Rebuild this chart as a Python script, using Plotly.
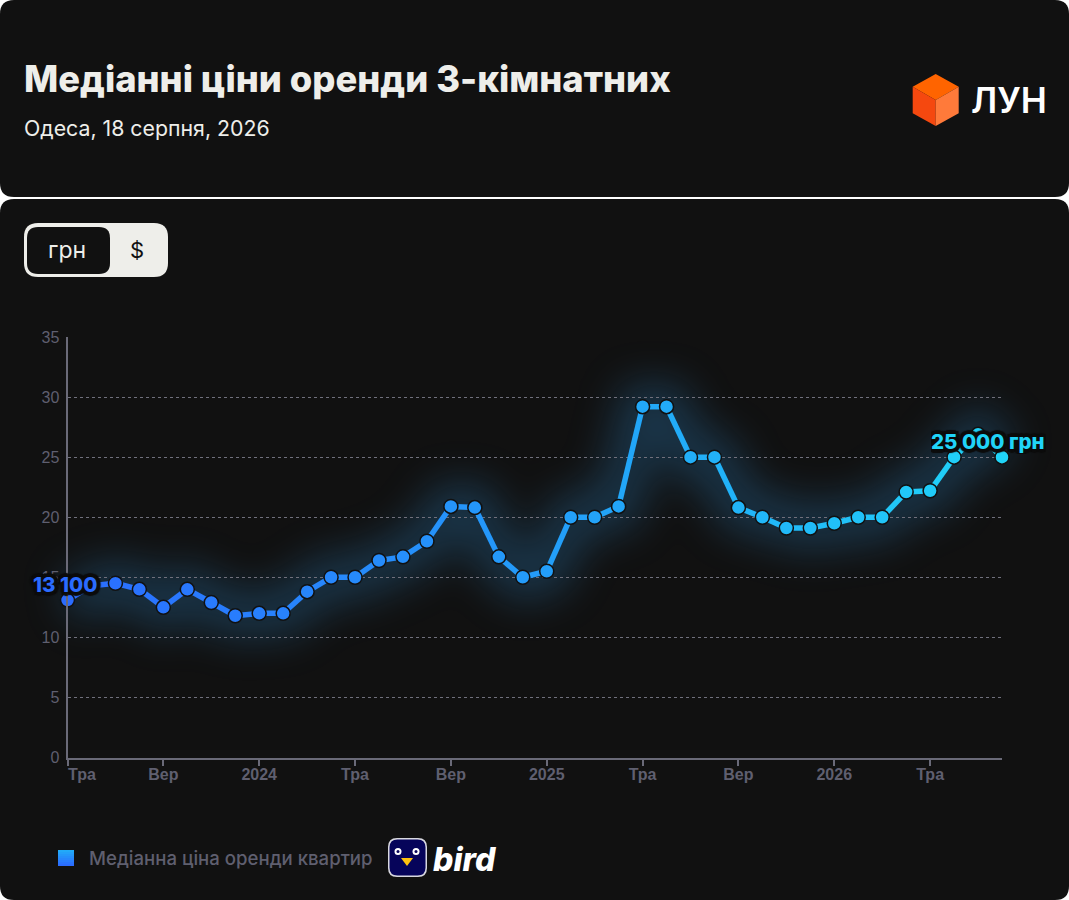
import plotly.graph_objects as go

WIDTH = 1069
HEIGHT = 900

# Data (thousands of UAH, May 2023 - Aug 2026)
months = [
    '2023-05', '2023-06', '2023-07', '2023-08', '2023-09', '2023-10', '2023-11', '2023-12',
    '2024-01', '2024-02', '2024-03', '2024-04', '2024-05', '2024-06', '2024-07', '2024-08',
    '2024-09', '2024-10', '2024-11', '2024-12', '2025-01', '2025-02', '2025-03', '2025-04',
    '2025-05', '2025-06', '2025-07', '2025-08', '2025-09', '2025-10', '2025-11', '2025-12',
    '2026-01', '2026-02', '2026-03', '2026-04', '2026-05', '2026-06', '2026-07', '2026-08',
]
prices = [
    13.1, 14.3, 14.5, 14.0, 12.5, 14.0, 12.9, 11.8,
    12.0, 12.0, 13.8, 15.0, 15.0, 16.4, 16.7, 18.0,
    20.9, 20.8, 16.7, 15.0, 15.5, 20.0, 20.0, 20.9,
    29.2, 29.2, 25.0, 25.0, 20.8, 20.0, 19.1, 19.1,
    19.5, 20.0, 20.0, 22.1, 22.2, 25.0, 26.9, 25.0,
]
x_tick_positions = [0, 4, 8, 12, 16, 20, 24, 28, 32, 36]
x_tick_labels = ['', 'Вер', '2024', 'Тра', 'Вер', '2025', 'Тра', 'Вер', '2026', 'Тра']
first_tick_label = 'Тра'
y_ticks = [0, 5, 10, 15, 20, 25, 30, 35]

title = 'Медіанні ціни оренди 3-кімнатних'
subtitle = 'Одеса, 18 серпня, 2026'
legend_text = 'Медіанна ціна оренди квартир'
first_label = '13 100'
last_label = '25 000 грн'

# Plot area in pixels
PLOT_L, PLOT_R, PLOT_T, PLOT_B = 67.5, 1002, 337, 757.5
CARD = '#111111'
GRAY = '#5f5f6f'
FONT = 'Inter'


def px(x):
    return x / WIDTH


def py(y):
    return 1 - y / HEIGHT


def round_rect(x0, y0, x1, y1, r):
    pts = [
        f'M{px(x0 + r)},{py(y0)}', f'L{px(x1 - r)},{py(y0)}', f'Q{px(x1)},{py(y0)} {px(x1)},{py(y0 + r)}',
        f'L{px(x1)},{py(y1 - r)}', f'Q{px(x1)},{py(y1)} {px(x1 - r)},{py(y1)}',
        f'L{px(x0 + r)},{py(y1)}', f'Q{px(x0)},{py(y1)} {px(x0)},{py(y1 - r)}',
        f'L{px(x0)},{py(y0 + r)}', f'Q{px(x0)},{py(y0)} {px(x0 + r)},{py(y0)}', 'Z',
    ]
    return ' '.join(pts)


def polygon(points):
    return 'M' + ' L'.join(f'{px(x)},{py(y)}' for x, y in points) + ' Z'


def line_color(t):
    # blue -> light blue -> cyan along the line
    stops = [(0.0, (43, 108, 255)), (0.6, (34, 166, 248)), (1.0, (32, 212, 248))]
    for (t0, c0), (t1, c1) in zip(stops, stops[1:]):
        if t <= t1:
            k = (t - t0) / (t1 - t0)
            return 'rgb(%d,%d,%d)' % tuple(round(a + (b - a) * k) for a, b in zip(c0, c1))
    return 'rgb(32,212,248)'


def add_path(fig, path, color):
    fig.add_shape(type='path', path=path, xref='paper', yref='paper',
                  fillcolor=color, line=dict(width=0), layer='below')


def add_text(fig, text, x, y, size, color, weight=400, anchor='left', family=FONT, style='normal', **kwargs):
    fig.add_annotation(text=text, x=px(x), y=py(y), xref='paper', yref='paper',
                       xanchor=anchor, yanchor='middle', showarrow=False,
                       font=dict(size=size, color=color, family=family, weight=weight, style=style, **kwargs))


fig = go.Figure()

# Cards
add_path(fig, round_rect(0, 0, WIDTH, 197, 14), CARD)
add_path(fig, round_rect(0, 199, WIDTH, HEIGHT, 14), CARD)

# Currency switch
add_path(fig, round_rect(24, 223, 168, 277, 14), '#eeeeea')
add_path(fig, round_rect(27, 227, 110, 274, 11), CARD)

# LUN logo
add_path(fig, polygon([(935.7, 74), (958.7, 86.7), (935.7, 100), (912.7, 86.7)]), '#ff6400')
add_path(fig, polygon([(912.7, 86.7), (935.7, 100), (935.7, 126), (912.7, 113.3)]), '#f5480f')
add_path(fig, polygon([(958.7, 86.7), (935.7, 100), (935.7, 126), (958.7, 113.3)]), '#ff7a3a')

# Legend square, vertical gradient
for i in range(8):
    k = i / 7
    color = 'rgb(%d,%d,%d)' % (34 + 9 * k, 170 - 62 * k, 248 + 7 * k)
    add_path(fig, polygon([(58, 850 + 2 * i), (74, 850 + 2 * i), (74, 852 + 2 * i), (58, 852 + 2 * i)]), color)

# Bird logo
add_path(fig, round_rect(388, 838, 427, 877, 9), '#d8d8e0')
add_path(fig, round_rect(389.5, 839.5, 425.5, 875.5, 8), '#06045a')
for cx in (398, 416):
    fig.add_shape(type='circle', xref='paper', yref='paper', x0=px(cx - 3.5), x1=px(cx + 3.5),
                  y0=py(855), y1=py(848), fillcolor='white', line=dict(width=0), layer='below')
    fig.add_shape(type='circle', xref='paper', yref='paper', x0=px(cx - 1.5), x1=px(cx + 1.5),
                  y0=py(853), y1=py(850), fillcolor='#06045a', line=dict(width=0), layer='below')
add_path(fig, polygon([(401, 858), (413, 858), (407, 866)]), '#ffc20e')

# Glow, on the full-page axes so that it is not cut at the plot edges (blurred in post_script)
fig.add_trace(go.Scatter(
    x=list(range(len(prices))), y=prices, xaxis='x', yaxis='y', mode='lines',
    line=dict(color='rgba(50,160,240,0.25)', width=46),
    hoverinfo='skip', showlegend=False,
))

# Line segments with a gradient
n = len(prices)
for i in range(n - 1):
    fig.add_trace(go.Scatter(
        x=[i, i + 1], y=prices[i:i + 2], xaxis='x2', yaxis='y2', mode='lines',
        line=dict(color=line_color((i + 0.5) / (n - 1)), width=5.5),
        hoverinfo='skip', showlegend=False,
    ))

fig.add_trace(go.Scatter(
    x=list(range(n)), y=prices, xaxis='x2', yaxis='y2', mode='markers', cliponaxis=False,
    marker=dict(size=14, color=[line_color(i / (n - 1)) for i in range(n)], line=dict(color=CARD, width=1.5)),
    customdata=months, hovertemplate='%{customdata}: %{y}<extra></extra>', showlegend=False,
))

# Texts
add_text(fig, title, 22, 79, 36.3, '#eeeeea', weight=800)
add_text(fig, subtitle, 22, 128, 21.3, '#eeeeea')
add_text(fig, 'грн', 67, 250, 23, '#eeeeea', anchor='center')
add_text(fig, '$', 137, 250, 22, '#111111', anchor='center')
add_text(fig, 'ЛУН', 969, 100, 35, '#ffffff', weight=600)
add_text(fig, legend_text, 87, 858, 18.6, GRAY, weight=500)
add_text(fig, 'bird', 431, 859, 32, '#ffffff', weight=800, style='italic')
add_text(fig, first_tick_label, 66, 774, 16, GRAY, weight=700, family='Liberation Sans')

# Dark ring round the value labels, hides the marks under them
offsets = [(-4, 0), (4, 0), (0, -4), (0, 4), (-3, -3), (3, -3), (-3, 3), (3, 3), (-2, 0), (2, 0), (0, -2), (0, 2)]
halo = ', '.join(f'{dx}px {dy}px 1px #0c0c0c' for dx, dy in offsets)
add_text(fig, first_label, 65, 584, 20.5, line_color(0), weight=800, anchor='center', shadow=halo)
fig.add_annotation(
    text=last_label, x=px(929), y=py(441), xref='paper', yref='paper', xanchor='left', yanchor='middle',
    showarrow=False, width=115, align='left',
    font=dict(size=20.5, color=line_color(1), family=FONT, weight=800, shadow=halo),
)

# Axes: x/y cover the whole page (only for the glow), x2/y2 are the visible ones
unit_x = (PLOT_R - PLOT_L) / (n - 1)
unit_y = (PLOT_B - PLOT_T) / 35

fig.update_layout(
    width=WIDTH,
    height=HEIGHT,
    margin=dict(l=0, r=0, t=0, b=0, autoexpand=False),
    paper_bgcolor='white',
    plot_bgcolor='rgba(0,0,0,0)',
    showlegend=False,
    xaxis=dict(domain=[0, 1], range=[-PLOT_L / unit_x, (WIDTH - PLOT_L) / unit_x], visible=False, fixedrange=True),
    yaxis=dict(domain=[0, 1], range=[-(HEIGHT - PLOT_B) / unit_y, PLOT_B / unit_y], visible=False, fixedrange=True),
    xaxis2=dict(
        domain=[px(PLOT_L), px(PLOT_R)], anchor='y2', range=[0, n - 1],
        tickmode='array', tickvals=x_tick_positions, ticktext=x_tick_labels,
        ticks='outside', ticklen=6, tickwidth=1.5, tickcolor='#6a6a78', ticklabelstandoff=-5,
        showline=True, linecolor='#6a6a78', linewidth=2, showgrid=False, zeroline=False,
        tickfont=dict(size=16, color=GRAY, family='Liberation Sans', weight=700), tickangle=0, fixedrange=True,
    ),
    yaxis2=dict(
        domain=[py(PLOT_B), py(PLOT_T)], anchor='x2', range=[0, 35],
        tickmode='array', tickvals=y_ticks, ticks='', ticklabelstandoff=3,
        showline=True, linecolor='#6a6a78', linewidth=2, zeroline=False,
        showgrid=True, gridcolor='#70707c', griddash='3px,3px', gridwidth=1.2,
        tickfont=dict(size=16, color=GRAY, family='Liberation Sans'), fixedrange=True,
    ),
)

post_script = """
document.body.style.margin = '0';
document.body.style.overflow = 'hidden';
document.querySelector('.scatterlayer .trace').style.filter = 'blur(20px)';
"""

fig.write_html('out.html', config={'displayModeBar': False}, post_script=post_script)
